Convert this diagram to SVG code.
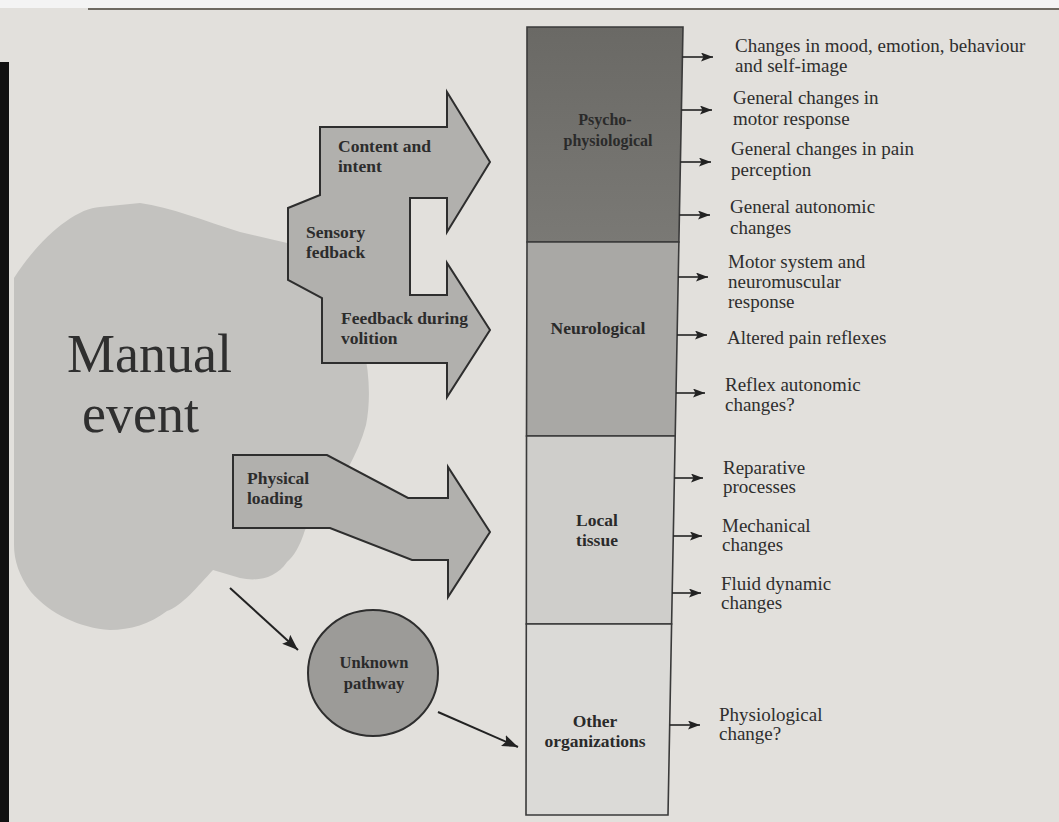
<svg xmlns="http://www.w3.org/2000/svg" width="1059" height="822" viewBox="0 0 1059 822">
  <style>
    .page { fill: #e2e0dc; }
    .blob { fill: #c3c2bf; }
    .bigarrow { fill: #b1b0ad; stroke: #2e2e2e; stroke-width: 2; stroke-linejoin: miter; }
    .circle { fill: #9c9b98; stroke: #2e2e2e; stroke-width: 2; }
    .sect { stroke: #3a3a3a; stroke-width: 1.6; }
    .lbl { font-family: "Liberation Serif", "Times New Roman", serif; font-weight: bold; font-size: 17.5px; fill: #2c2c2c; }
    .col { font-family: "Liberation Serif", "Times New Roman", serif; font-weight: bold; font-size: 17.5px; fill: #2a2a2a; text-anchor: middle; }
    .out { font-family: "Liberation Serif", "Times New Roman", serif; font-size: 19px; fill: #2e2e2e; }
    .title { font-family: "Liberation Serif", "Times New Roman", serif; font-size: 54px; fill: #2f2f2f; }
    .conn { stroke: #222; stroke-width: 1.6; fill: none; }
    .conn2 { stroke: #222; stroke-width: 2; fill: none; }
  </style>
  <defs>
    <marker id="ah" viewBox="0 0 12 9" refX="12" refY="4.5" markerWidth="12" markerHeight="9" markerUnits="userSpaceOnUse" orient="auto">
      <path d="M0,0 L12,4.5 L0,9 L2.5,4.5 z" fill="#222"/>
    </marker>
    <marker id="ahBig" viewBox="0 0 16 12" refX="16" refY="6" markerWidth="16" markerHeight="12" markerUnits="userSpaceOnUse" orient="auto">
      <path d="M0,0 L16,6 L0,12 L3,6 z" fill="#222"/>
    </marker>
    <linearGradient id="psyGrad" x1="0" y1="0" x2="0" y2="1">
      <stop offset="0" stop-color="#6a6965"/>
      <stop offset="1" stop-color="#7a7975"/>
    </linearGradient>
  </defs>

  <g id="background">
    <rect class="page" x="0" y="0" width="1059" height="822"/>
    <rect x="0" y="0" width="1059" height="8" fill="#f4f4f4"/>
    <line x1="88" y1="9" x2="1059" y2="9" stroke="#6e6a62" stroke-width="2"/>
    <rect x="0" y="62" width="9" height="760" fill="#111"/>
  </g>

  <g id="manual-event-blob">
    <path class="blob" d="M14,278 C38,240 75,208 100,207 L140,203 C170,207 205,221 240,232 L300,246 L345,300 C368,340 373,390 366,425 C356,462 330,500 305,530 C300,546 294,556 287,562 C276,578 258,582 240,578 L213,570 C198,586 182,606 167,611 C150,624 130,630 110,630 C80,628 50,614 31,592 C19,576 14,560 14,545 Z"/>
    <text class="title" x="67" y="372">Manual</text>
    <text class="title" x="82" y="432">event</text>
  </g>

  <g id="node-psychological-inputs">
    <polygon class="bigarrow" points="320,127 447,127 447,92 490,162 447,232 447,198 410,198 410,295 447,295 447,263 490,330 447,397 447,363 322,363 322,298 288,280 288,208 320,195"/>
    <text class="lbl" x="338" y="152">Content and</text>
    <text class="lbl" x="338" y="172">intent</text>
    <text class="lbl" x="306" y="238">Sensory</text>
    <text class="lbl" x="306" y="258">fedback</text>
    <text class="lbl" x="341" y="324">Feedback during</text>
    <text class="lbl" x="341" y="344">volition</text>
  </g>

  <g id="node-physical-loading">
    <polygon class="bigarrow" points="233,455 327,455 408,498 448,498 448,467 490,532 448,597 448,560 412,560 330,528 233,528"/>
    <text class="lbl" x="247" y="484">Physical</text>
    <text class="lbl" x="247" y="504">loading</text>
  </g>

  <g id="node-unknown-pathway">
    <ellipse class="circle" cx="373" cy="673" rx="65" ry="63"/>
    <text class="col" x="374" y="668" style="font-size:16.5px">Unknown</text>
    <text class="col" x="374" y="689" style="font-size:16.5px">pathway</text>
  </g>

  <g id="node-psycho-physiological">
    <polygon class="sect" fill="url(#psyGrad)" points="527,27 683,27 678.9,242 527,242"/>
    <text class="col" x="605" y="125" style="font-size:16px">Psycho-</text>
    <text class="col" x="608" y="146" style="font-size:16px">physiological</text>
  </g>

  <g id="node-neurological">
    <polygon class="sect" fill="#a9a8a5" points="527,242 678.9,242 675.2,436 526.5,436"/>
    <text class="col" x="598" y="334">Neurological</text>
  </g>

  <g id="node-local-tissue">
    <polygon class="sect" fill="#cfcecb" points="526.5,436 675.2,436 671.6,624 526.3,624"/>
    <text class="col" x="597" y="526">Local</text>
    <text class="col" x="597" y="546">tissue</text>
  </g>

  <g id="node-other-organizations">
    <polygon class="sect" fill="#dbdad7" points="526.3,624 671.6,624 668,815 526,815"/>
    <text class="col" x="595" y="727">Other</text>
    <text class="col" x="595" y="747">organizations</text>
  </g>

  <g id="outcomes">
    <text class="out" x="735" y="52">Changes in mood, emotion, behaviour</text>
    <text class="out" x="735" y="72">and self-image</text>
    <text class="out" x="733" y="104">General changes in</text>
    <text class="out" x="733" y="125">motor response</text>
    <text class="out" x="731" y="155">General changes in pain</text>
    <text class="out" x="731" y="176">perception</text>
    <text class="out" x="730" y="213">General autonomic</text>
    <text class="out" x="730" y="234">changes</text>
    <text class="out" x="728" y="268">Motor system and</text>
    <text class="out" x="728" y="288">neuromuscular</text>
    <text class="out" x="728" y="308">response</text>
    <text class="out" x="727" y="344">Altered pain reflexes</text>
    <text class="out" x="725" y="391">Reflex autonomic</text>
    <text class="out" x="725" y="411">changes?</text>
    <text class="out" x="723" y="474">Reparative</text>
    <text class="out" x="723" y="493">processes</text>
    <text class="out" x="722" y="532">Mechanical</text>
    <text class="out" x="722" y="551">changes</text>
    <text class="out" x="721" y="590">Fluid dynamic</text>
    <text class="out" x="721" y="609">changes</text>
    <text class="out" x="719" y="721">Physiological</text>
    <text class="out" x="719" y="740">change?</text>
  </g>

  <g id="connectors">
    <line class="conn" x1="682.4" y1="57" x2="713" y2="57" marker-end="url(#ah)"/>
    <line class="conn" x1="681.4" y1="110" x2="712" y2="110" marker-end="url(#ah)"/>
    <line class="conn" x1="680.4" y1="162" x2="711" y2="162" marker-end="url(#ah)"/>
    <line class="conn" x1="679.4" y1="215" x2="710" y2="215" marker-end="url(#ah)"/>
    <line class="conn" x1="678.2" y1="277" x2="708" y2="277" marker-end="url(#ah)"/>
    <line class="conn" x1="677.1" y1="335" x2="707" y2="335" marker-end="url(#ah)"/>
    <line class="conn" x1="676" y1="393" x2="705" y2="393" marker-end="url(#ah)"/>
    <line class="conn" x1="674.4" y1="478" x2="703" y2="478" marker-end="url(#ah)"/>
    <line class="conn" x1="673.3" y1="536" x2="702" y2="536" marker-end="url(#ah)"/>
    <line class="conn" x1="672.2" y1="593" x2="701" y2="593" marker-end="url(#ah)"/>
    <line class="conn" x1="669.7" y1="725" x2="700" y2="725" marker-end="url(#ah)"/>
    <line class="conn2" x1="230" y1="588" x2="298" y2="650" marker-end="url(#ahBig)"/>
    <line class="conn2" x1="438" y1="712" x2="518" y2="747" marker-end="url(#ahBig)"/>
  </g>
</svg>
